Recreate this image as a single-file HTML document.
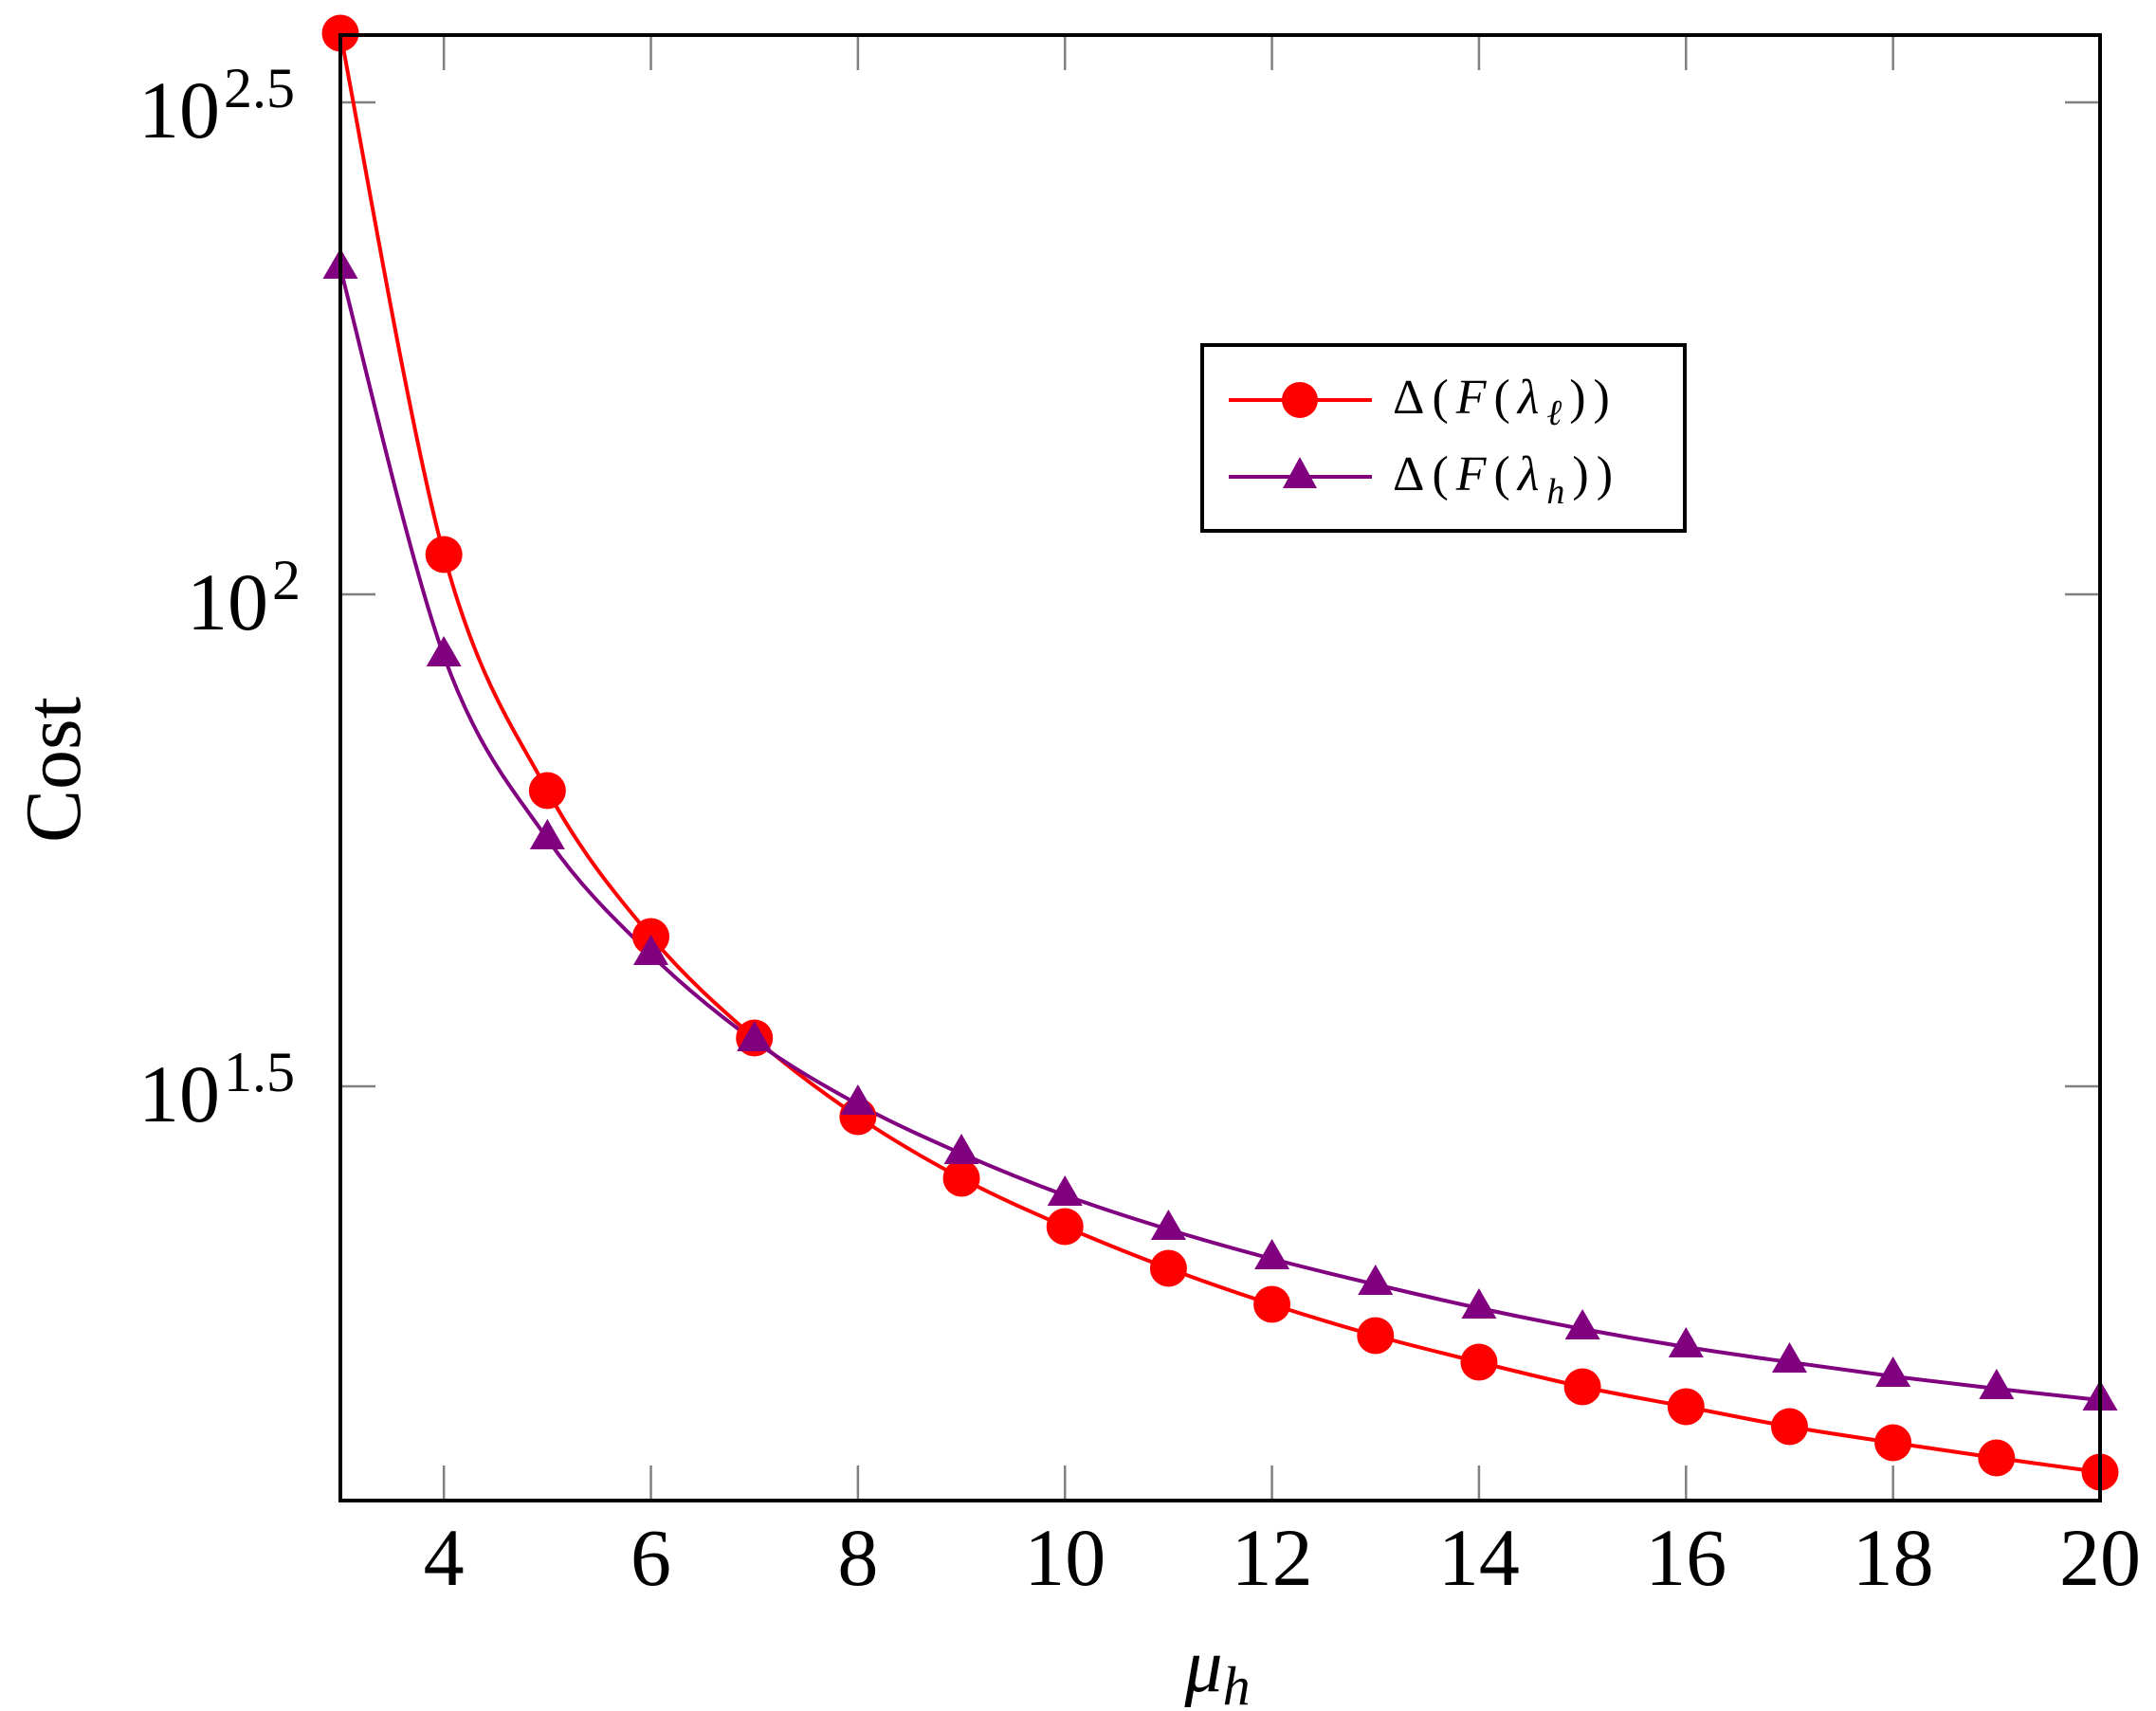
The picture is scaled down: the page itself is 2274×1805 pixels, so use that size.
<!DOCTYPE html>
<html><head><meta charset="utf-8"><style>
html,body{margin:0;padding:0;background:#fff;}
svg{display:block;}
text{font-family:"Liberation Serif",serif;fill:#000;}
</style></head><body>
<svg id="s" width="2274" height="1805" viewBox="0 0 2274 1805" xmlns="http://www.w3.org/2000/svg">
<g stroke="#808080" stroke-width="2.5" id="ticks"></g>
<g id="series"></g>
<rect x="359" y="37" width="1856" height="1546" fill="none" stroke="#000" stroke-width="4"/>
<text x="232" y="145" font-size="86" text-anchor="end">10</text><text x="236" y="113" font-size="60">2.5</text>
<text x="283" y="664" font-size="86" text-anchor="end">10</text><text x="287" y="632" font-size="60">2</text>
<text x="232" y="1183" font-size="86" text-anchor="end">10</text><text x="236" y="1151" font-size="60">1.5</text>
<g id="xl" font-size="86" text-anchor="middle"></g>
<text transform="translate(84,812) rotate(-90)" font-size="84" text-anchor="middle">Cost</text>
<text x="1284" y="1784" font-size="80" font-style="italic" text-anchor="middle">μ<tspan font-size="58" dy="14">h</tspan></text>
<rect x="1268" y="364" width="509" height="196" fill="#fff" stroke="#000" stroke-width="4"/>
<line x1="1296" y1="422" x2="1447" y2="422" stroke="#f00" stroke-width="4"/>
<circle cx="1371" cy="422" r="19" fill="#f00"/>
<line x1="1296" y1="503" x2="1447" y2="503" stroke="#800080" stroke-width="4"/>
<polygon points="1371,482 1389,515 1353,515" fill="#800080"/>
<text x="1469" y="436" font-size="52" letter-spacing="8">Δ(<tspan font-style="italic">F</tspan>(<tspan font-style="italic">λ</tspan><tspan font-style="italic" font-size="38" dy="12">ℓ</tspan><tspan dy="-12">))</tspan></text>
<text x="1469" y="517" font-size="52" letter-spacing="8">Δ(<tspan font-style="italic">F</tspan>(<tspan font-style="italic">λ</tspan><tspan font-style="italic" font-size="38" dy="14">h</tspan><tspan dy="-14">))</tspan></text>
</svg>
<script>
var NS="http://www.w3.org/2000/svg";
function X(v){return 359+(v-3)*109.176;}
var t=document.getElementById("ticks"),xl=document.getElementById("xl");
function el(p,tag,a,txt){var e=document.createElementNS(NS,tag);for(var k in a)e.setAttribute(k,a[k]);if(txt)e.textContent=txt;p.appendChild(e);return e;}
for(var v=4;v<=20;v+=2){var x=X(v);
el(t,"line",{x1:x,y1:1583,x2:x,y2:1546});el(t,"line",{x1:x,y1:37,x2:x,y2:74});
el(xl,"text",{x:x,y:1672},""+v);}
[108,627,1146].forEach(function(y){el(t,"line",{x1:359,y1:y,x2:396,y2:y});el(t,"line",{x1:2215,y1:y,x2:2178,y2:y});});
var red=[35,585,834,988,1095,1178,1243,1294,1338,1376,1409,1437,1463,1484,1505,1522,1538,1553];
var pur=[283,692,885,1007,1098,1165,1217,1261,1297,1328,1355,1380,1402,1421,1437,1452,1465,1477];
function path(ys){var p=ys.map(function(y,i){return [X(i+3),y];});var d="M"+p[0][0]+","+p[0][1];
for(var i=0;i<p.length-1;i++){var p0=p[Math.max(i-1,0)],p1=p[i],p2=p[i+1],p3=p[Math.min(i+2,p.length-1)];
var c1=[p1[0]+(p2[0]-p0[0])/6,p1[1]+(p2[1]-p0[1])/6],c2=[p2[0]-(p3[0]-p1[0])/6,p2[1]-(p3[1]-p1[1])/6];
d+=" C"+c1[0]+","+c1[1]+" "+c2[0]+","+c2[1]+" "+p2[0]+","+p2[1];}return d;}
var g=document.getElementById("series");
el(g,"path",{d:path(red),fill:"none",stroke:"#f00","stroke-width":4});
el(g,"path",{d:path(pur),fill:"none",stroke:"#800080","stroke-width":4});
red.forEach(function(y,i){el(g,"circle",{cx:X(i+3),cy:y,r:19.5,fill:"#f00"});});
pur.forEach(function(y,i){var x=X(i+3);el(g,"polygon",{points:x+","+(y-21)+" "+(x+18.5)+","+(y+11)+" "+(x-18.5)+","+(y+11),fill:"#800080"});});
</script>
</body></html>
